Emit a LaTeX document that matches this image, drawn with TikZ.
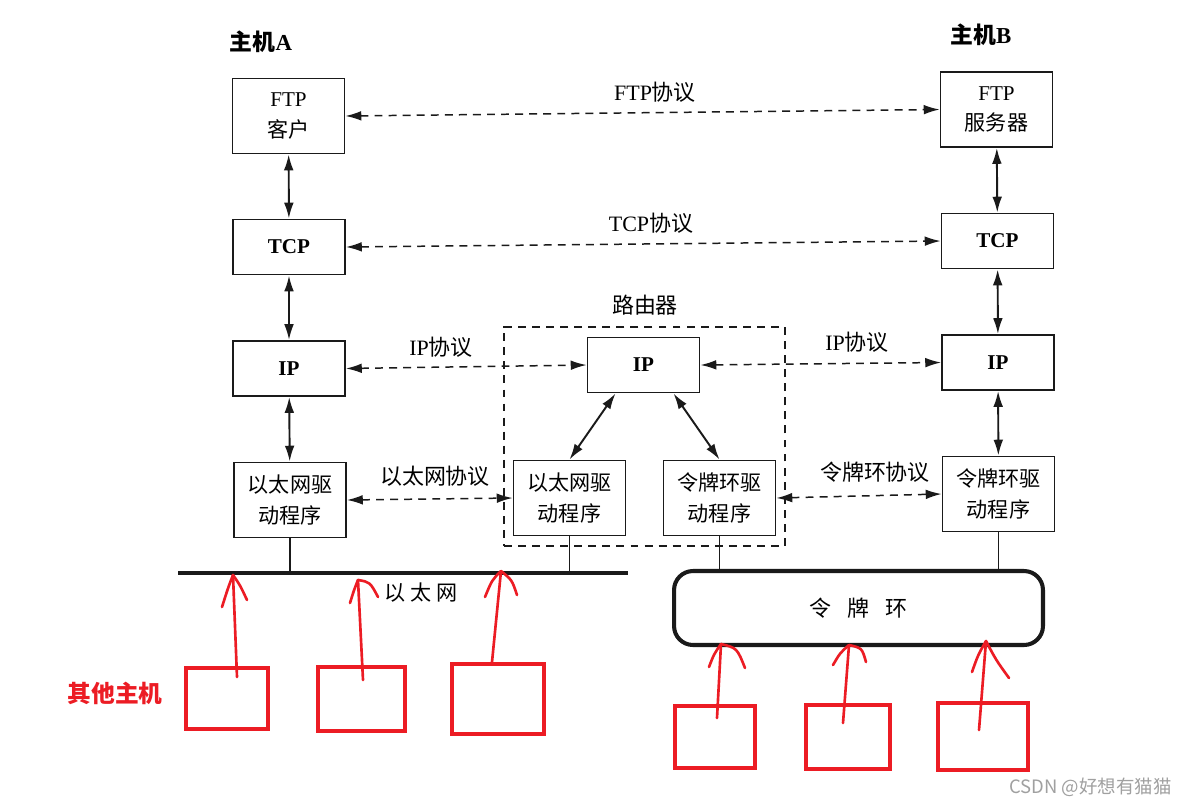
\documentclass[tikz,border=0pt]{standalone}
\usepackage{fontspec}
\setmainfont{Liberation Serif}
\newfontfamily\cjk{Noto Sans CJK SC}
\usetikzlibrary{arrows.meta,calc}
\definecolor{pen}{HTML}{1A1A1A}
\definecolor{redink}{HTML}{EC1C24}
\definecolor{wmgray}{HTML}{A0A0A0}
\newcommand{\zhs}[1]{{\cjk #1}}
\begin{document}
\begin{tikzpicture}[x=0.02cm,y=-0.02cm,
  box/.style={draw=pen, line width=1.1pt, minimum width=2.24cm, minimum height=1.1cm,
    inner sep=0pt, align=center, font=\fontsize{12}{17.5}\selectfont},
  tallbox/.style={box, minimum height=1.5cm},
  lbl/.style={inner sep=0pt, font=\fontsize{12.5}{15}\selectfont},
  tip/.tip={Latex[length=9pt,width=5.5pt]},
  dasharrow/.style={draw=pen, line width=0.85pt, dash pattern=on 4.5pt off 3.5pt, tip-tip},
  solidarrow/.style={draw=pen, line width=1.1pt, tip-tip},
  thinline/.style={draw=pen, line width=0.7pt},
  redbox/.style={draw=redink, line width=2.4pt, inner sep=0pt},
  redpen/.style={draw=redink, line width=1.5pt, line cap=round, line join=round}
]
\fill[white] (0,0) rectangle (1185,805);
\useasboundingbox (0,0) rectangle (1185,805);

% host labels
\node[lbl, font=\fontsize{13}{15}\selectfont\bfseries] (hostA) at (261,42) {\zhs{主机}A};
\node[lbl, font=\fontsize{13}{15}\selectfont\bfseries] (hostB) at (981,35) {\zhs{主机}B};

% router dashed frame
\node[draw=pen, line width=0.85pt, dash pattern=on 4.5pt off 3.5pt, minimum width=5.62cm, minimum height=4.38cm, inner sep=0pt] (router) at (644.5,436.5) {};
\node[lbl] (routerlbl) at (645,305) {\zhs{路由器}};

% host A stack
\node[tallbox] (ftpA) at (288.5,116) {FTP\\\zhs{客户}};
\node[box] (tcpA) at (289,247) {\bfseries TCP};
\node[box] (ipA) at (289,368.5) {\bfseries IP};
\node[tallbox] (ethA) at (290,500) {\zhs{以太网驱}\\\zhs{动程序}};

% host B stack
\node[tallbox] (ftpB) at (996.5,109.5) {FTP\\\zhs{服务器}};
\node[box] (tcpB) at (997.5,241) {\bfseries TCP};
\node[box] (ipB) at (998,362.5) {\bfseries IP};
\node[tallbox] (trB) at (998.5,494) {\zhs{令牌环驱}\\\zhs{动程序}};

% router stack
\node[box] (ipR) at (643.5,365) {\bfseries IP};
\node[tallbox] (ethR) at (569.5,498) {\zhs{以太网驱}\\\zhs{动程序}};
\node[tallbox] (trR) at (719.5,498) {\zhs{令牌环驱}\\\zhs{动程序}};

% vertical solid arrows
\draw[solidarrow] (ftpA) -- (tcpA);
\draw[solidarrow] (tcpA) -- (ipA);
\draw[solidarrow] (ipA) -- (ethA);
\draw[solidarrow] (ftpB) -- (tcpB);
\draw[solidarrow] (tcpB) -- (ipB);
\draw[solidarrow] (ipB) -- (trB);
\draw[solidarrow] ($(ipR.south)+(-28,0)$) -- (ethR.north);
\draw[solidarrow] ($(ipR.south)+(30,0)$) -- (trR.north);

% peer protocol dashed arrows
\draw[dasharrow] (ftpA.east) -- (ftpB.west);
\node[lbl] (ftpP) at (655,92) {FTP\zhs{协议}};
\draw[dasharrow] (tcpA.east) -- (tcpB.west);
\node[lbl] (tcpP) at (651,223) {TCP\zhs{协议}};
\draw[dasharrow] (ipA.east) -- (ipR.west);
\node[lbl] (ipP1) at (441,347) {IP\zhs{协议}};
\draw[dasharrow] (ipR.east) -- (ipB.west);
\node[lbl] (ipP2) at (857,342) {IP\zhs{协议}};
\draw[dasharrow] (ethA.east) -- (ethR.west);
\node[lbl] (ethP) at (435,476) {\zhs{以太网协议}};
\draw[dasharrow] (trR.east) -- (trB.west);
\node[lbl] (trP) at (875,472) {\zhs{令牌环协议}};

% ethernet bus
\coordinate (busL) at (178,573);
\coordinate (busR) at (628,573);
\draw[draw=pen, line width=2.8pt] (busL) -- (busR);
\draw[thinline] (ethA.south) -- (ethA.south |- busL);
\draw[thinline] (ethR.south) -- (ethR.south |- busL);
\node[lbl, font=\fontsize{12}{15}\selectfont] (buslbl) at (421,593) {\zhs{以\hspace{3pt}太\hspace{3pt}网}};

% token ring
\node[draw=pen, line width=2.3pt, rounded corners=0.38cm, minimum width=7.38cm, minimum height=1.48cm, inner sep=0pt,
  font=\fontsize{12.5}{15}\selectfont] (ring) at (858.5,608) {\zhs{令\hspace{9pt}牌\hspace{9pt}环}};
\draw[thinline] (trR.south) -- (trR.south |- ring.north);
\draw[thinline] (trB.south) -- (trB.south |- ring.north);

% other hosts (red annotations)
\node[lbl, text=redink, font=\fontsize{13.5}{16}\selectfont\bfseries] (others) at (115,693) {\zhs{其他主机}};
\node[redbox, minimum width=1.64cm, minimum height=1.22cm] (r1) at (227,698.5) {};
\node[redbox, minimum width=1.74cm, minimum height=1.28cm] (r2) at (361.5,699) {};
\node[redbox, minimum width=1.84cm, minimum height=1.40cm] (r3) at (498,699) {};
\node[redbox, minimum width=1.60cm, minimum height=1.24cm] (r4) at (715,737) {};
\node[redbox, minimum width=1.68cm, minimum height=1.28cm] (r5) at (848,737) {};
\node[redbox, minimum width=1.80cm, minimum height=1.34cm] (r6) at (983,736.5) {};

\coordinate (s1) at (237,677); \coordinate (t1) at (233,575);
\coordinate (s2) at (363,680); \coordinate (t2) at (358,580);
\coordinate (s3) at (492,662); \coordinate (t3) at (501,571);
\coordinate (s4) at (717,718); \coordinate (t4) at (721,644);
\coordinate (s5) at (843,723); \coordinate (t5) at (849,645);
\coordinate (s6) at (979,730); \coordinate (t6) at (986,641);

\draw[redpen] (s1) -- (t1);
\draw[redpen] (t1) .. controls (228,588) .. (222,607);
\draw[redpen] (t1) .. controls (240,585) .. (247,600);
\draw[redpen] (s2) -- (t2);
\draw[redpen] (t2) .. controls (354,590) .. (350,603);
\draw[redpen] (t2) .. controls (370,582) .. (378,597);
\draw[redpen] (s3) -- (t3);
\draw[redpen] (t3) .. controls (492,580) .. (485,597);
\draw[redpen] (t3) .. controls (512,580) .. (517,595);
\draw[redpen] (s4) -- (t4);
\draw[redpen] (t4) .. controls (714,654) .. (709,667);
\draw[redpen] (t4) .. controls (737,648) .. (745,668);
\draw[redpen] (s5) -- (t5);
\draw[redpen] (t5) .. controls (840,653) .. (833,665);
\draw[redpen] (t5) .. controls (862,648) .. (866,662);
\draw[redpen] (s6) -- (t6);
\draw[redpen] (t6) .. controls (978,655) .. (972,672);
\draw[redpen] (t6) .. controls (996,660) .. (1009,678);

% watermark
\node[lbl, text=wmgray, anchor=east, font=\cjk\fontsize{10.5}{12}\selectfont] (wm) at (1172,787) {CSDN @好想有猫猫};
\end{tikzpicture}
\end{document}
